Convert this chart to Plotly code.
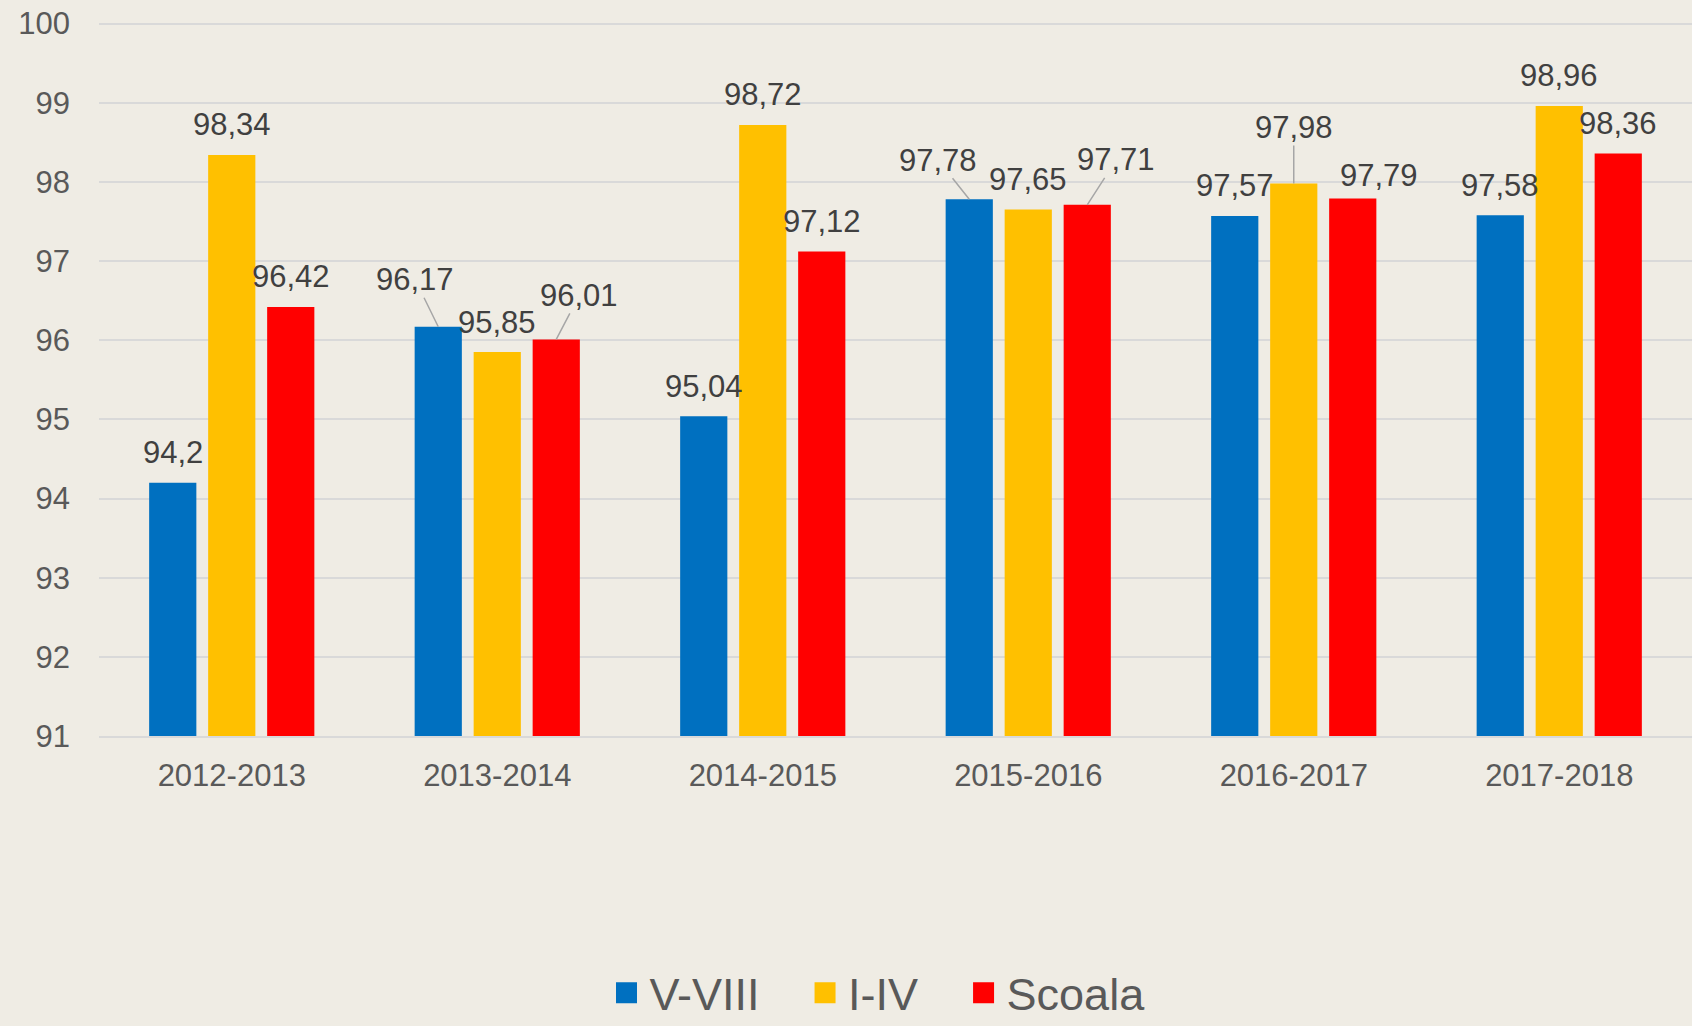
import plotly.graph_objects as go

# ---------------- data ----------------
categories = ["2012-2013", "2013-2014", "2014-2015", "2015-2016", "2016-2017", "2017-2018"]
series_names = ["V-VIII", "I-IV", "Scoala"]
v_viii = [94.2, 96.17, 95.04, 97.78, 97.57, 97.58]
i_iv = [98.34, 95.85, 98.72, 97.65, 97.98, 98.96]
scoala = [96.42, 96.01, 97.12, 97.71, 97.79, 98.36]
y_ticks = [91, 92, 93, 94, 95, 96, 97, 98, 99, 100]

# ---------------- style ----------------
colors = ["#0070C0", "#FFC000", "#FF0000"]
bg = "#EFECE4"
grid = "#D9D9D9"
tick_col = "#595959"
label_col = "#404040"
font_main = "Liberation Sans"
bargap = 1 / 3
bargroupgap = 0.2
slot = (1 - bargap) / 3

# hand-moved data labels in the original: (series, category) -> (dx px, dy px, leader line)
default_offset = (0, -30, False)
label_offsets = {
    (0, 1): (-23, -47, True),
    (2, 1): (23, -44, True),
    (0, 3): (-31, -39, True),
    (2, 3): (29, -45, True),
    (1, 4): (0, -56, True),
    (2, 4): (26, -23, False),
}

series_values = [v_viii, i_iv, scoala]

fig = go.Figure()
for s, (name, vals, col) in enumerate(zip(series_names, series_values, colors)):
    fig.add_trace(go.Bar(
        x=categories, y=vals, name=name, marker=dict(color=col, line=dict(width=0)),
        showlegend=False, hoverinfo="x+y+name",
    ))
# legend entries (larger square swatches)
for name, col in zip(series_names, colors):
    fig.add_trace(go.Scatter(
        x=[None], y=[None], mode="markers", name=name + "\u00a0\u00a0\u00a0",
        marker=dict(symbol="square", size=16, color=col, line=dict(color=col, width=5)),
        showlegend=True,
    ))

annotations = []
for s, vals in enumerate(series_values):
    for i, v in enumerate(vals):
        dx, dy, leader = label_offsets.get((s, i), default_offset)
        annotations.append(dict(
            x=i + (s - 1) * slot, y=v, xref="x", yref="y",
            text=("%g" % v).replace(".", ","),
            showarrow=True, ax=dx, ay=dy, axref="pixel", ayref="pixel",
            arrowhead=0, arrowwidth=1.5, standoff=0, startstandoff=0,
            arrowcolor="#A6A6A6" if leader else "rgba(0,0,0,0)",
            font=dict(family=font_main, size=31, color=label_col),
            borderpad=0,
        ))

fig.update_layout(
    width=1692, height=1026,
    margin=dict(l=99, r=0, t=22, b=290, autoexpand=False),
    paper_bgcolor=bg, plot_bgcolor=bg,
    barmode="group", bargap=bargap, bargroupgap=bargroupgap,
    annotations=annotations,
    font=dict(family=font_main, color=tick_col),
    legend=dict(
        orientation="h", x=0.5, xanchor="center", y=-0.36, yanchor="middle",
        font=dict(family=font_main, size=45, color=tick_col),
        bgcolor="rgba(0,0,0,0)", itemsizing="trace", itemwidth=36,
    ),
    xaxis=dict(
        type="category", showgrid=False, showline=True, linecolor=grid, linewidth=2,
        ticks="", tickfont=dict(family=font_main, size=31, color=tick_col),
        ticklabelstandoff=11,
    ),
    yaxis=dict(
        range=[91, 100.02], tickvals=y_ticks, ticktext=[str(t) for t in y_ticks],
        showgrid=True, gridcolor=grid, gridwidth=2, zeroline=False, showline=False,
        ticks="", tickfont=dict(family=font_main, size=31, color=tick_col),
        ticklabelstandoff=28,
    ),
)

fig.write_html(
    "out.html",
    config={"displayModeBar": False},
    post_script="document.body.style.margin='0';document.body.style.background='%s';" % bg,
)
